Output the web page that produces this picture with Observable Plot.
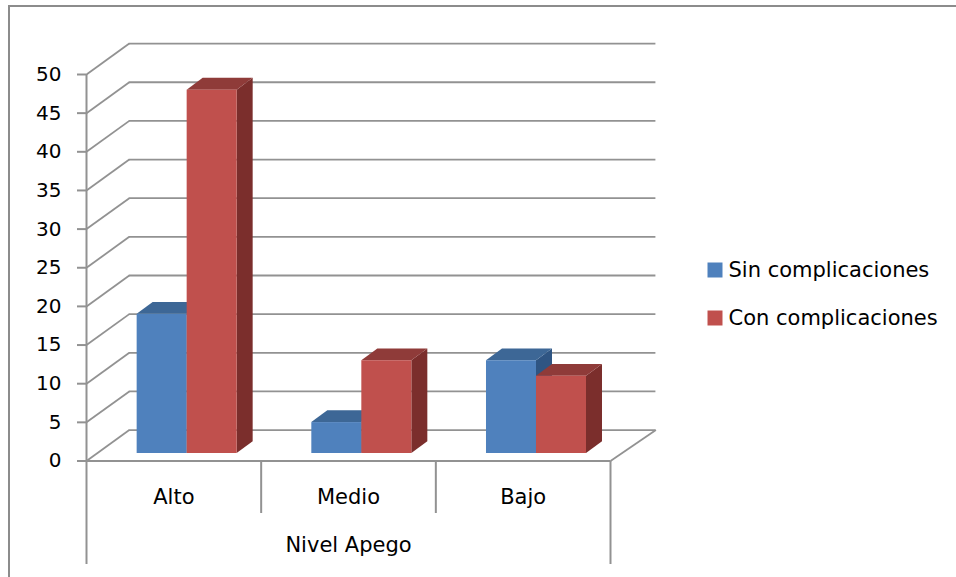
<!DOCTYPE html>
<html>
<head>
<meta charset="utf-8">
<script src="https://cdn.jsdelivr.net/npm/d3@7"></script>
<script src="https://cdn.jsdelivr.net/npm/@observablehq/plot@0.6"></script>
<style>
  html, body { margin: 0; padding: 0; background: #fff; }
  #wrap { position: relative; width: 956px; height: 577px; overflow: hidden; }
  #border { position: absolute; left: 8px; top: 5px; width: 2000px; height: 2000px;
            border-top: 2px solid #8c8c8c; border-left: 2px solid #8c8c8c; pointer-events: none; }
  svg { font-family: "DejaVu Sans", sans-serif; }
</style>
</head>
<body>
<div id="wrap"><div id="border"></div></div>
<script>
// ---- data ----
const categories = ["Alto", "Medio", "Bajo"];
const seriesNames = ["Sin complicaciones", "Con complicaciones"];
const sinValues = [18, 4, 12];
const conValues = [47, 12, 10];
const yTicks = [0, 5, 10, 15, 20, 25, 30, 35, 40, 45, 50];
const axisTitle = "Nivel Apego";

// ---- styling / layout ----
const palette = {
  front: ["#4F81BD", "#C0504D"],
  top: ["#3D6796", "#8F3B39"],
  side: ["#2F5583", "#7B2E2C"]
};
const gridColor = "#929292";
const TICK_FONT = 20, LABEL_FONT = 21;
// 3D depth of the walls (in data units)
const WALL_DX = 0.245, WALL_DY = 4.0;
// bar placement within a category (in data units)
const BAR_LEFT = 0.29, BAR_W = 0.2863, BAR_BASE = 0.97, BAR_DX = 0.0916, BAR_DY = 1.53;

const values = [sinValues, conValues];
const bars = [];
categories.forEach((c, i) => {
  seriesNames.forEach((s, k) => {
    const xl = i + BAR_LEFT + k * BAR_W;
    const xr = xl + BAR_W;
    const v = values[k][i];
    bars.push({cat: c, series: s, k, xl, xr, b: BAR_BASE, t: v + BAR_BASE, v});
  });
});

// side faces and top faces as polygons built with area
const sidePts = [], topPts = [];
bars.forEach((d, j) => {
  sidePts.push({key: j, x: d.xr, y1: d.b, y2: d.t, fill: palette.side[d.k]});
  sidePts.push({key: j, x: d.xr + BAR_DX, y1: d.b + BAR_DY, y2: d.t + BAR_DY, fill: palette.side[d.k]});
  topPts.push({key: j, x: d.xl, y1: d.t, y2: d.t, fill: palette.top[d.k]});
  topPts.push({key: j, x: d.xl + BAR_DX, y1: d.t, y2: d.t + BAR_DY, fill: palette.top[d.k]});
  topPts.push({key: j, x: d.xr, y1: d.t, y2: d.t + BAR_DY, fill: palette.top[d.k]});
  topPts.push({key: j, x: d.xr + BAR_DX, y1: d.t + BAR_DY, y2: d.t + BAR_DY, fill: palette.top[d.k]});
});

const xScale = {type: "linear", domain: [0, 3], range: [86, 610]};
const yScale = {type: "linear", domain: [0, 50], range: [460.5, 74]};
const px2y = (p) => (460.5 - p) / (460.5 - 74) * 50;
const px2x = (p) => (p - 86) / (610 - 86) * 3;

const legend = seriesNames.map((s, k) => ({s, k, y: px2y(269.5 + 48 * k)}));

const chart = Plot.plot({
  width: 956,
  height: 577,
  margin: 0,
  x: {...xScale, axis: null},
  y: {...yScale, axis: null},
  color: {type: "identity"},
  marks: [
    // back wall gridlines
    Plot.ruleY(yTicks, {y: (d) => d + WALL_DY, x1: WALL_DX, x2: 3 + WALL_DX + 0.015, stroke: gridColor, strokeWidth: 1.8}),
    // left wall diagonals
    Plot.link(yTicks, {x1: 0, y1: (d) => d, x2: WALL_DX, y2: (d) => d + WALL_DY, stroke: gridColor, strokeWidth: 1.8}),
    // floor right edge & front edge
    Plot.link([0], {x1: 3, y1: 0, x2: 3 + WALL_DX + 0.015, y2: WALL_DY, stroke: gridColor, strokeWidth: 1.8}),
    Plot.ruleY([0], {x1: 0, x2: 3, stroke: gridColor, strokeWidth: 2}),
    // y axis line and ticks
    Plot.ruleX([0], {y1: 0, y2: 50, stroke: gridColor, strokeWidth: 2}),
    Plot.ruleY(yTicks, {x1: px2x(77), x2: 0, stroke: gridColor, strokeWidth: 2}),
    Plot.text(yTicks, {x: 0, y: (d) => d, text: (d) => String(d), textAnchor: "end", dx: -25, fontSize: TICK_FONT, fill: "#000"}),
    // category separators below the axis
    Plot.ruleX([0, 1, 2, 3], {y1: 0, y2: (d) => (d === 0 || d === 3 ? px2y(564) : px2y(513)), stroke: gridColor, strokeWidth: 2}),
    Plot.text(categories, {x: (d, i) => i + 0.5, y: px2y(497), text: (d) => d, fontSize: LABEL_FONT, fill: "#000"}),
    Plot.text([axisTitle], {x: 1.5, y: px2y(544.5), text: (d) => d, fontSize: LABEL_FONT, fill: "#000"}),
    // bars: side, top, front
    ...bars.map((d, j) => [
      Plot.area(sidePts.filter((p) => p.key === j), {x1: "x", y1: "y1", y2: "y2", fill: "fill", curve: "linear"}),
      Plot.area(topPts.filter((p) => p.key === j), {x1: "x", y1: "y1", y2: "y2", fill: "fill", curve: "linear"}),
      Plot.rect([d], {x1: "xl", x2: "xr", y1: "b", y2: "t", fill: palette.front[d.k]})
    ]).flat(),
    // legend
    Plot.dot(legend, {x: px2x(714.5), y: "y", symbol: "square", r: 15 / Math.sqrt(Math.PI), fill: (d) => palette.front[d.k]}),
    Plot.text(legend, {x: px2x(728), y: "y", text: "s", textAnchor: "start", fontSize: LABEL_FONT, fill: "#000"})
  ]
});
document.getElementById("wrap").prepend(chart);
</script>
</body>
</html>
